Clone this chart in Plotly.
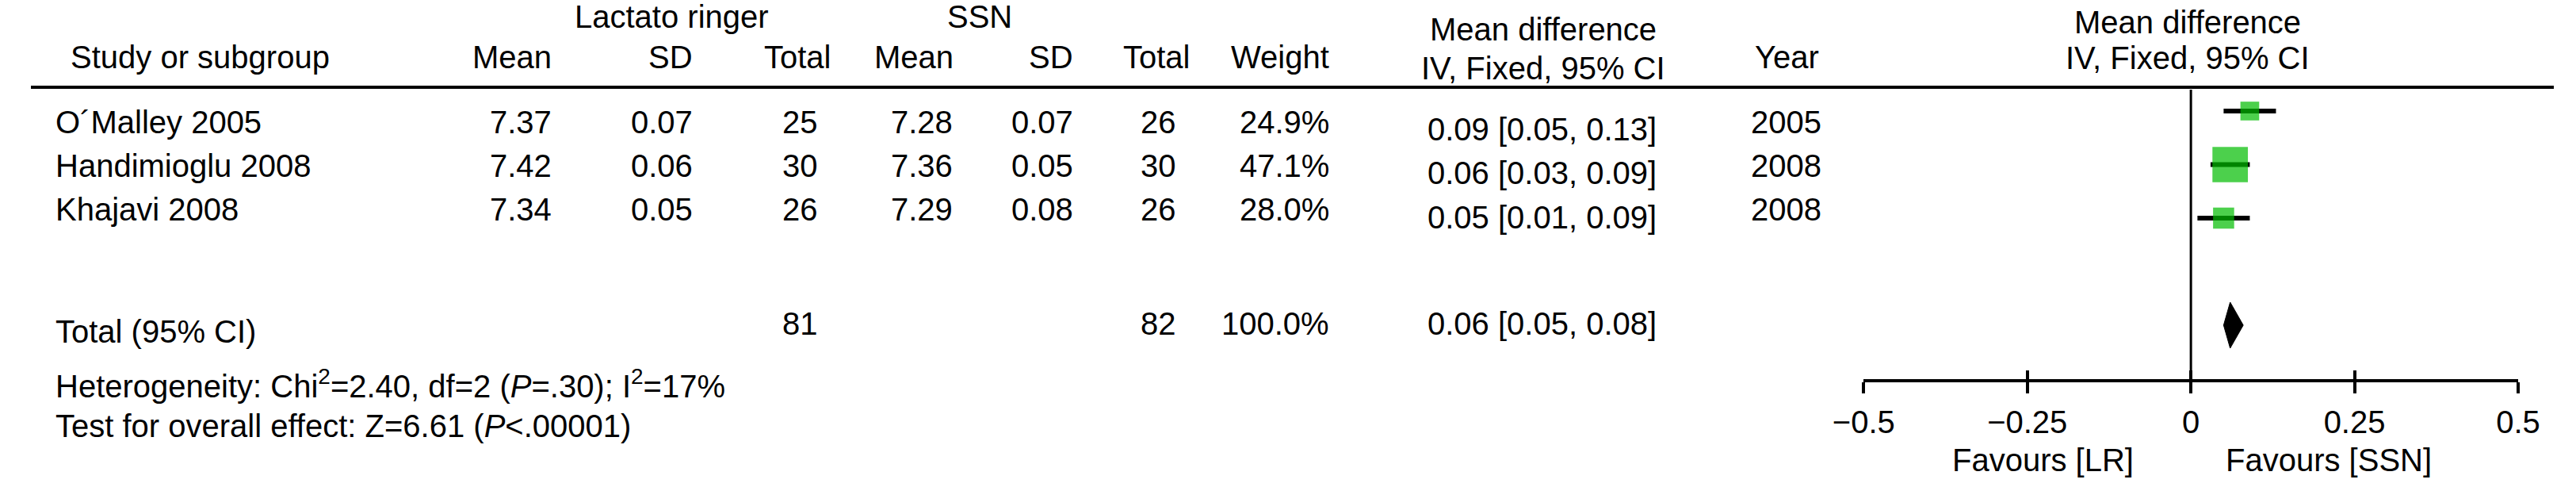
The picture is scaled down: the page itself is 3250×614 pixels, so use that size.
import plotly.graph_objects as go

# ---------------- data ----------------
studies = ["O´Malley 2005", "Handimioglu 2008", "Khajavi 2008"]
lr_mean = [7.37, 7.42, 7.34]
lr_sd = [0.07, 0.06, 0.05]
lr_total = [25, 30, 26]
ssn_mean = [7.28, 7.36, 7.29]
ssn_sd = [0.07, 0.05, 0.08]
ssn_total = [26, 30, 26]
weights = [24.9, 47.1, 28.0]
md = [0.09, 0.06, 0.05]
ci_low = [0.05, 0.03, 0.01]
ci_high = [0.13, 0.09, 0.09]
years = [2005, 2008, 2008]

total_label = "Total (95% CI)"
total_lr = 81
total_ssn = 82
total_weight = 100.0
total_md = 0.06
total_low = 0.05
total_high = 0.08

heterogeneity = "Heterogeneity: Chi<sup>2</sup>=2.40, df=2 (<i>P</i>=.30); I<sup>2</sup>=17%"
overall = "Test for overall effect: Z=6.61 (<i>P</i>&lt;.00001)"

tick_vals = [-0.5, -0.25, 0, 0.25, 0.5]
tick_text = ["\u22120.5", "\u22120.25", "0", "0.25", "0.5"]
favours_left = "Favours [LR]"
favours_right = "Favours [SSN]"

# ---------------- layout constants ----------------
W, H = 3250, 614
FONT = "Liberation Sans, Arial, Helvetica, sans-serif"
FS = 40
GREEN = "rgb(0,188,0)"

ROW_TOP_PX = 140.0      # pixel centre of first forest row
ROW_PITCH_PX = 67.5     # pixel spacing of forest rows
TOTAL_ROW = 4           # forest row index of the pooled estimate
X_LEFT_PX, X_RIGHT_PX = 2361, 3204   # pixel x of -0.5 and 0.5

y_range = [(H - ROW_TOP_PX) / ROW_PITCH_PX, -ROW_TOP_PX / ROW_PITCH_PX]


def py(p):
    return 1 - p / H


def px(p):
    return p / W


annotations = []


def ann(text, x, y, anchor="center", size=FS):
    annotations.append(dict(
        text=text, x=px(x), y=py(y), xref="paper", yref="paper",
        xanchor=anchor, yanchor="middle", showarrow=False, borderpad=0,
        font=dict(family=FONT, size=size, color="black")))


# header
ann("Lactato ringer", 826, 21)
ann("SSN", 1222, 21)
ann("Study or subgroup", 50, 72, "left")
ann("Mean", 672, 72, "right")
ann("SD", 854, 72, "right")
ann("Total", 988, 72)
ann("Mean", 1190, 72, "right")
ann("SD", 1344, 72, "right")
ann("Total", 1450, 72)
ann("Weight", 1673, 72, "right")
ann("Mean difference", 1948, 37)
ann("IV, Fixed, 95% CI", 1948, 86)
ann("Year", 2262, 72)
ann("Mean difference", 2778, 28)
ann("IV, Fixed, 95% CI", 2778, 73)

# study rows
text_rows = [154, 209, 264]
md_rows = [163, 218, 274]
for i, name in enumerate(studies):
    y = text_rows[i]
    ann(name, 31, y, "left")
    ann(f"{lr_mean[i]:.2f}", 672, y, "right")
    ann(f"{lr_sd[i]:.2f}", 854, y, "right")
    ann(f"{lr_total[i]}", 991, y)
    ann(f"{ssn_mean[i]:.2f}", 1189, y, "right")
    ann(f"{ssn_sd[i]:.2f}", 1344, y, "right")
    ann(f"{ssn_total[i]}", 1452, y)
    ann(f"{weights[i]:.1f}%", 1673, y, "right")
    ann(f"{md[i]:.2f} [{ci_low[i]:.2f}, {ci_high[i]:.2f}]", 1947, md_rows[i])
    ann(f"{years[i]}", 2261, y)

# total row and footnotes
ann(total_label, 31, 418, "left")
ann(f"{total_lr}", 991, 408)
ann(f"{total_ssn}", 1452, 408)
ann(f"{total_weight:.1f}%", 1673, 408, "right")
ann(f"{total_md:.2f} [{total_low:.2f}, {total_high:.2f}]", 1947, 408)
ann(heterogeneity, 31, 484, "left")
ann(overall, 31, 537, "left")

# favours labels
ann(favours_left, 2592, 580)
ann(favours_right, 2960, 580)

# ---------------- traces ----------------
rows = list(range(len(studies)))
fig = go.Figure()

# study CIs + squares
fig.add_trace(go.Scatter(
    x=md, y=rows, mode="markers",
    marker=dict(symbol="square", color=GREEN, size=[w * 0.95 for w in weights],
                line=dict(width=0)),
    error_x=dict(type="data", symmetric=False,
                 array=[h - m for h, m in zip(ci_high, md)],
                 arrayminus=[m - l for m, l in zip(md, ci_low)],
                 color="black", thickness=6, width=0),
    hoverinfo="skip", showlegend=False))

# pooled diamond
half_h = 29 / ROW_PITCH_PX
fig.add_trace(go.Scatter(
    x=[total_low, total_md, total_high, total_md, total_low],
    y=[TOTAL_ROW, TOTAL_ROW - half_h, TOTAL_ROW, TOTAL_ROW + half_h, TOTAL_ROW],
    mode="lines", fill="toself", fillcolor="black",
    line=dict(color="black", width=1), hoverinfo="skip", showlegend=False))

# invisible trace on overlay axis (upper half of ticks)
fig.add_trace(go.Scatter(x=[0], y=[TOTAL_ROW], xaxis="x2", mode="markers",
                         marker=dict(opacity=0), hoverinfo="skip", showlegend=False))

axis_pos = py(480)
shapes = [
    # header rule
    dict(type="line", xref="paper", yref="paper", x0=0, x1=1, y0=py(110), y1=py(110),
         line=dict(color="black", width=4)),
    # line of no effect
    dict(type="line", xref="x", yref="paper", x0=0, x1=0, y0=py(113), y1=py(494),
         line=dict(color="black", width=3), layer="below"),
]

fig.update_layout(
    width=W, height=H,
    margin=dict(l=0, r=0, t=0, b=0, pad=0),
    paper_bgcolor="white", plot_bgcolor="rgba(0,0,0,0)",
    font=dict(family=FONT, size=FS, color="black"),
    showlegend=False,
    xaxis=dict(domain=[px(X_LEFT_PX), px(X_RIGHT_PX)], range=[-0.5, 0.5],
               anchor="free", position=axis_pos,
               tickmode="array", tickvals=tick_vals, ticktext=tick_text,
               ticks="outside", ticklen=14, tickwidth=4, tickcolor="black",
               showline=True, linewidth=4, linecolor="black",
               showgrid=False, zeroline=False,
               tickfont=dict(family=FONT, size=FS, color="black"),
               ticklabelstandoff=2, fixedrange=True),
    xaxis2=dict(domain=[px(X_LEFT_PX), px(X_RIGHT_PX)], range=[-0.5, 0.5],
                overlaying="x", anchor="free", position=axis_pos,
                tickmode="array", tickvals=tick_vals,
                ticks="inside", ticklen=13, tickwidth=4, tickcolor="black",
                showticklabels=False, showline=False, showgrid=False, zeroline=False,
                fixedrange=True),
    yaxis=dict(domain=[0, 1], range=y_range, visible=False, showgrid=False,
               zeroline=False, fixedrange=True),
    shapes=shapes,
    annotations=annotations,
)

fig.write_html(
    "out.html",
    config={"displayModeBar": False},
    post_script="document.body.style.margin='0';document.body.style.padding='0';"
                "document.documentElement.style.margin='0';"
                "document.documentElement.style.overflow='hidden';",
)
